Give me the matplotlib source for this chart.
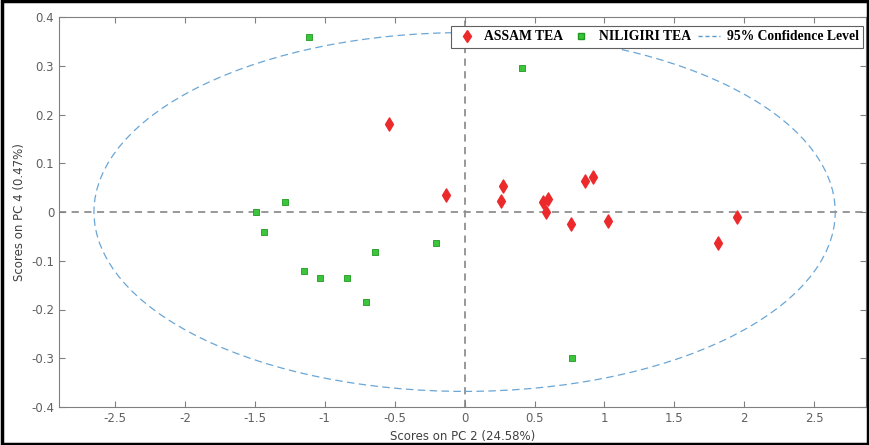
import numpy as np
import matplotlib
matplotlib.use("Agg")
import matplotlib.pyplot as plt
from matplotlib.patches import Ellipse, Rectangle
from matplotlib.lines import Line2D

assam_x = [-0.54, -0.13, 0.262, 0.276, 0.564, 0.593, 0.581, 0.76, 0.86, 0.92, 1.024, 1.81, 1.95]
assam_y = [0.181, 0.035, 0.023, 0.054, 0.021, 0.027, 0.0, -0.025, 0.063, 0.072, -0.018, -0.063, -0.01]
nil_x = [-1.109, 0.407, -1.495, -1.283, -1.434, -1.145, -1.031, -0.84, -0.702, -0.638, -0.205, 0.766]
nil_y = [0.359, 0.296, 0.0, 0.02, -0.041, -0.122, -0.136, -0.135, -0.184, -0.082, -0.063, -0.30]
ell_center = (0.0, 0.0)
ell_semi = (2.65, 0.368)
xticks = [-2.5, -2, -1.5, -1, -0.5, 0, 0.5, 1, 1.5, 2, 2.5]
yticks = [-0.4, -0.3, -0.2, -0.1, 0, 0.1, 0.2, 0.3, 0.4]

fig = plt.figure(figsize=(8.7, 4.45), dpi=100)
ax = fig.add_axes([59/870, 38/445, (866-59)/870, (407-17)/445])

gray = '#808080'
ax.axhline(0, color='#909090', ls=(0, (4, 3)), lw=1.3, zorder=1)
ax.axvline(0, color='#909090', ls=(0, (4, 3)), lw=1.3, zorder=1)

ell = Ellipse(ell_center, 2*ell_semi[0], 2*ell_semi[1], fill=False,
              edgecolor='#6aa6d6', ls=(0, (6, 3.5)), lw=0.9, zorder=2)
ax.add_patch(ell)

ax.scatter(assam_x, assam_y, marker='d', s=45, color='#ec2a2c', edgecolors='#ec2a2c', zorder=3)
ax.scatter(nil_x, nil_y, marker='s', s=22, color='#3cc43c', edgecolors='#1f9a1f', linewidths=0.6, zorder=3)

ax.set_xlim(-2.9, 2.87)
ax.set_ylim(-0.4, 0.4)
ax.set_xticks(xticks)
ax.set_xticklabels([f"{t:g}" for t in xticks])
ax.set_yticks(yticks)
ax.set_yticklabels([f"{t:g}" for t in yticks])
ax.tick_params(direction='in', length=4, width=0.8, colors=gray, labelcolor='#606060',
               labelsize=8.5, top=True, right=True)
for s in ax.spines.values():
    s.set_color(gray)
    s.set_linewidth(0.8)
ax.set_xlabel('Scores on PC 2 (24.58%)', fontsize=8.5, color='#404040', labelpad=4)
ax.set_ylabel('Scores on PC 4 (0.47%)', fontsize=8.5, color='#404040', labelpad=4)

handles = [
    Line2D([], [], marker='d', color='#ec2a2c', ls='none', markersize=6.5),
    Line2D([], [], marker='s', color='#3cc43c', markeredgecolor='#1f9a1f', ls='none', markersize=4.5),
    Line2D([], [], color='#5a9bd0', ls=(0, (3, 2)), lw=1.0),
]
leg = ax.legend(handles, ['ASSAM TEA', 'NILIGIRI TEA', '95% Confidence Level'],
                ncol=3, loc='upper right', bbox_to_anchor=(1.0, 0.985),
                prop={'family': 'Liberation Serif', 'weight': 'bold', 'size': 9.8},
                frameon=True, fancybox=False, edgecolor='#606060', framealpha=1,
                handlelength=1.6, columnspacing=0.5, handletextpad=0.5,
                borderpad=0.35, borderaxespad=0.2)
leg.get_frame().set_linewidth(0.8)

fig.patches.append(Rectangle((0.002, 0.003), 0.996, 0.994, transform=fig.transFigure,
                             fill=False, edgecolor='black', linewidth=2.5))

fig.savefig('out.png', dpi=100)
